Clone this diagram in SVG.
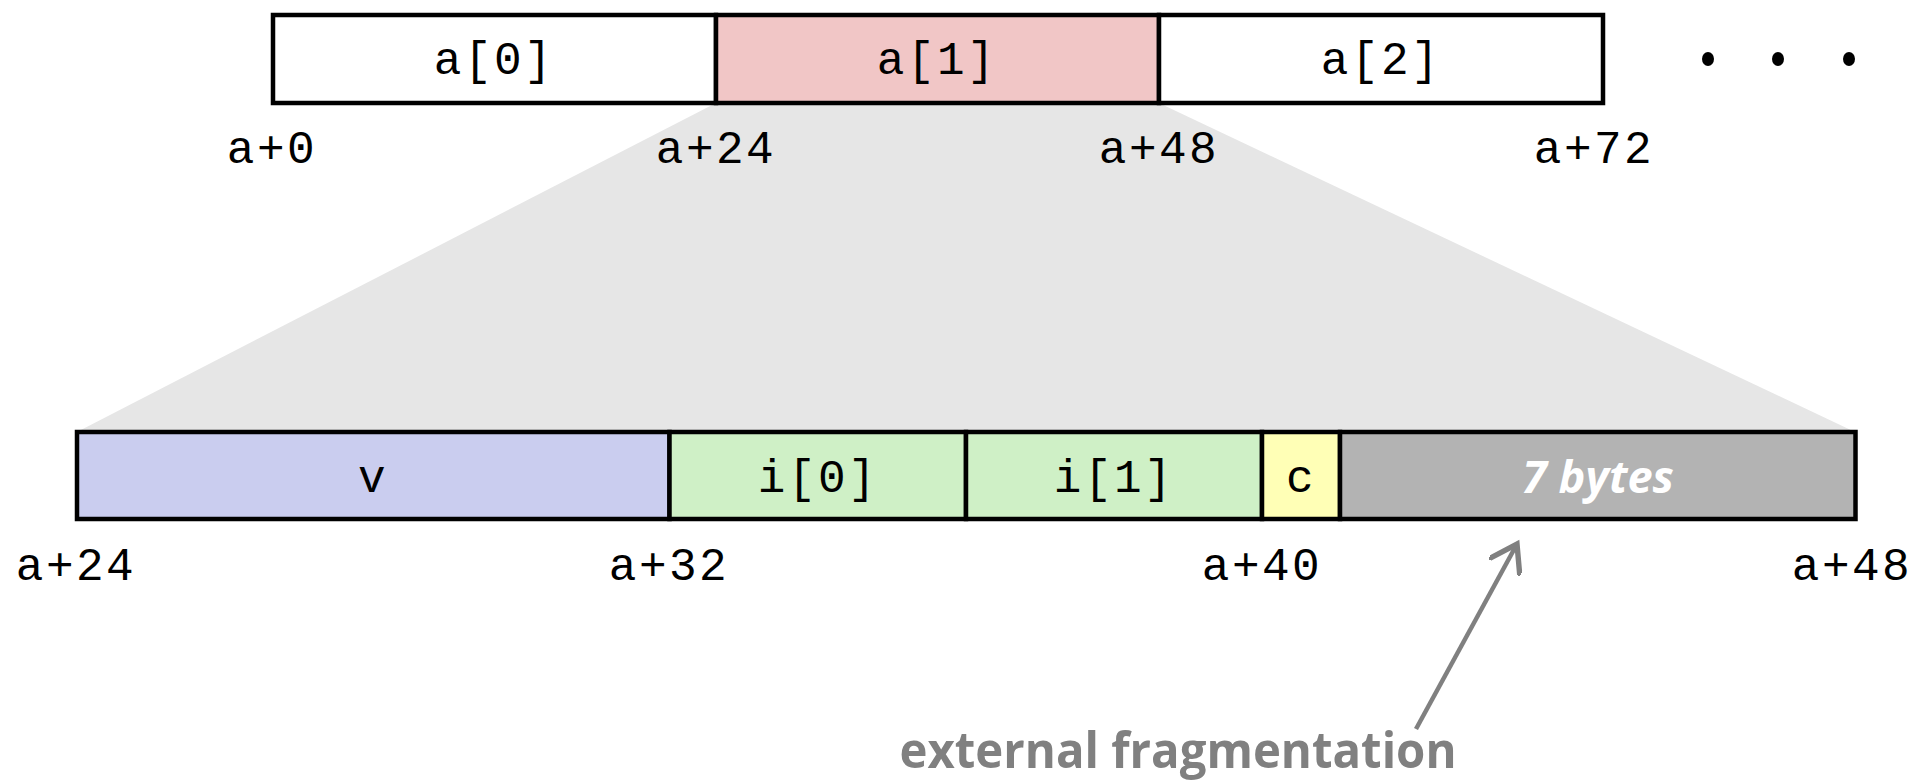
<svg xmlns="http://www.w3.org/2000/svg" width="1919" height="780" viewBox="0 0 1919 780">
<style>
.box{stroke:#000;stroke-width:4.5}
.mono{font-family:"Liberation Mono","Courier New",monospace;font-size:46px;fill:#000;text-anchor:middle;letter-spacing:2.5px}
.lbl{font-family:"Liberation Mono","Courier New",monospace;font-size:46px;fill:#000;text-anchor:middle;letter-spacing:2.5px}
</style>
<defs>
<marker id="arr" markerWidth="8" markerHeight="8" refX="6" refY="4" orient="auto" markerUnits="strokeWidth">
<path d="M0,0 L6,4 L0,8" fill="none" stroke="#808080" stroke-width="1.2"/>
</marker>
</defs>
<rect width="1919" height="780" fill="#fff"/>
<polygon id="zoom" points="716,103 1159,103 1855,432 77,432" fill="#e6e6e6"/>
<g id="array">
<g id="a0"><rect class="box" x="273" y="15" width="443" height="88" fill="#fff"/><text class="mono" x="494" y="74">a[0]</text></g>
<g id="a1"><rect class="box" x="716" y="15" width="443" height="88" fill="#f1c6c6"/><text class="mono" x="937" y="74">a[1]</text></g>
<g id="a2"><rect class="box" x="1159" y="15" width="444" height="88" fill="#fff"/><text class="mono" x="1381" y="74">a[2]</text></g>
<g id="dots" fill="#000"><ellipse cx="1708" cy="59" rx="6" ry="7"/><ellipse cx="1778" cy="59" rx="6" ry="7"/><ellipse cx="1849" cy="59" rx="6" ry="7"/></g>
</g>
<g id="toplabels">
<text class="lbl" x="272" y="163">a+0</text>
<text class="lbl" x="716" y="163">a+24</text>
<text class="lbl" x="1159" y="163">a+48</text>
<text class="lbl" x="1594" y="163">a+72</text>
</g>
<g id="struct">
<g id="v"><rect class="box" x="77" y="432" width="592.5" height="87" fill="#cacdef"/><text class="mono" x="373" y="492">v</text></g>
<g id="i0"><rect class="box" x="669.5" y="432" width="296.5" height="87" fill="#cff0c6"/><text class="mono" x="818" y="492">i[0]</text></g>
<g id="i1"><rect class="box" x="966" y="432" width="296" height="87" fill="#cff0c6"/><text class="mono" x="1114" y="492">i[1]</text></g>
<g id="c"><rect class="box" x="1262" y="432" width="78" height="87" fill="#ffffb6"/><text class="mono" x="1301" y="492">c</text></g>
<g id="pad"><rect class="box" x="1340" y="432" width="515.5" height="87" fill="#b3b3b3"/><text x="1598" y="493" font-family="'Open Sans','Liberation Sans',sans-serif" font-weight="bold" font-style="italic" font-size="44" fill="#fff" text-anchor="middle" textLength="152" lengthAdjust="spacingAndGlyphs">7 bytes</text></g>
</g>
<g id="bottomlabels">
<text class="lbl" x="76" y="580">a+24</text>
<text class="lbl" x="669" y="580">a+32</text>
<text class="lbl" x="1262" y="580">a+40</text>
<text class="lbl" x="1852" y="580">a+48</text>
</g>
<g id="connectors">
<line x1="1416" y1="729" x2="1517" y2="544" stroke="#808080" stroke-width="4.5" marker-end="url(#arr)"/>
</g>
<g id="note"><text x="1178" y="768" font-family="'Open Sans','Liberation Sans',sans-serif" font-weight="bold" font-size="50" fill="#808080" text-anchor="middle" textLength="557" lengthAdjust="spacingAndGlyphs">external fragmentation</text></g>
</svg>
